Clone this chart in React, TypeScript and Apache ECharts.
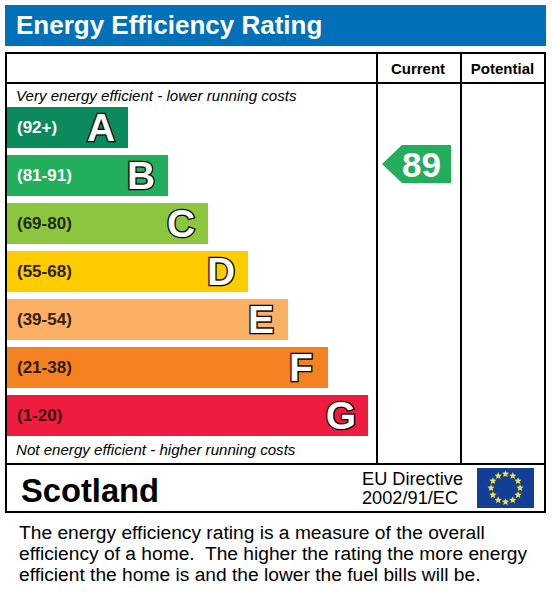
import React, { useEffect, useRef } from "react";
import * as echarts from "echarts";

const letters = ["A", "B", "C", "D", "E", "F", "G"];
const ranges = ["(92+)", "(81-91)", "(69-80)", "(55-68)", "(39-54)", "(21-38)", "(1-20)"];
const barLengths = [121, 161, 201, 241, 281, 321, 361];
const barColors = ["#0b8a5c", "#22ae5b", "#8cc63f", "#ffcc00", "#fbb063", "#f58220", "#ee1c3e"];
const rangeColors = ["#ffffff", "#ffffff", "#1f2b10", "#2b2000", "#33210f", "#33190a", "#3a0a10"];
const currentScore = 89;
const titleText = "Energy Efficiency Rating";
const columnHeads = ["Current", "Potential"];
const topNote = "Very energy efficient - lower running costs";
const bottomNote = "Not energy efficient - higher running costs";
const region = "Scotland";
const directive = ["EU Directive", "2002/91/EC"];
const paragraph = [
  "The energy efficiency rating is a measure of the overall",
  "efficiency of a home.  The higher the rating the more energy",
  "efficient the home is and the lower the fuel bills will be.",
];

const FONT = "'Liberation Sans', Arial, sans-serif";

function starPoints(cx: number, cy: number, r: number) {
  const pts: number[][] = [];
  for (let i = 0; i < 10; i++) {
    const rad = i % 2 === 0 ? r : r * 0.45;
    const a = -Math.PI / 2 + (i * Math.PI) / 5;
    pts.push([cx + rad * Math.cos(a), cy + rad * Math.sin(a)]);
  }
  return pts;
}

function blackRect(x: number, y: number, width: number, height: number) {
  return { type: "rect", shape: { x, y, width, height }, style: { fill: "#000" }, silent: true };
}

function txt(x: number, y: number, text: string, font: string, fill = "#000", align = "left") {
  return {
    type: "text",
    x,
    y,
    silent: true,
    style: { text, font, fill, align, verticalAlign: "middle" },
  };
}

export default function App() {
  const ref = useRef<HTMLDivElement>(null);
  useEffect(() => {
    document.body.style.margin = "0";
    document.body.style.background = "#fff";
    const chart = echarts.init(ref.current!, undefined, { renderer: "svg" });
    const stars = Array.from({ length: 12 }, (_, i) => {
      const a = (i * Math.PI) / 6;
      return {
        type: "polygon",
        silent: true,
        shape: { points: starPoints(505.5 + 14.5 * Math.sin(a), 488 - 14 * Math.cos(a), 3.8) },
        style: { fill: "#f4e23a" },
      };
    });
    chart.setOption({
      animation: false,
      backgroundColor: "#fff",
      title: {
        text: titleText,
        left: 16,
        top: 12,
        padding: 0,
        textStyle: { color: "#fff", fontFamily: FONT, fontWeight: "bold", fontSize: 26 },
      },
      grid: { left: 7, top: 103.5, width: 444, height: 336, containLabel: false },
      xAxis: { type: "value", min: 0, max: 444, show: false },
      yAxis: [
        { type: "category", data: letters, inverse: true, show: false },
        { type: "value", min: 7, max: 107, show: false },
      ],
      graphic: [
        { type: "rect", shape: { x: 5, y: 5, width: 541, height: 41 }, style: { fill: "#0070b8" }, silent: true, z: -1 },
        blackRect(5, 52, 541, 2),
        blackRect(5, 82, 541, 2),
        blackRect(5, 463, 541, 2),
        blackRect(5, 511, 541, 2),
        blackRect(5, 52, 2, 461),
        blackRect(544, 52, 2, 461),
        blackRect(376, 52, 2, 412),
        blackRect(460, 52, 2, 412),
        txt(418, 68.5, columnHeads[0], `bold 15px ${FONT}`, "#000", "center"),
        txt(502.5, 68.5, columnHeads[1], `bold 15px ${FONT}`, "#000", "center"),
        txt(16, 95.5, topNote, `italic 15.1px ${FONT}`),
        txt(16, 449.5, bottomNote, `italic 15.1px ${FONT}`),
        txt(21, 490, region, `bold 32.7px ${FONT}`),
        txt(362, 479, directive[0], `18.2px ${FONT}`),
        txt(362, 498, directive[1], `18.2px ${FONT}`),
        txt(19, 532.5, paragraph[0], `19.2px ${FONT}`),
        txt(19, 553.5, paragraph[1], `19.2px ${FONT}`),
        txt(19, 574.5, paragraph[2], `19.2px ${FONT}`),
        { type: "rect", shape: { x: 477, y: 468, width: 57, height: 40 }, style: { fill: "#123f95" }, silent: true },
        ...stars,
      ],
      series: [
        {
          type: "bar",
          barWidth: 41,
          barGap: "-100%",
          silent: true,
          data: barLengths.map((v, i) => ({
            value: v,
            itemStyle: { color: barColors[i] },
            label: { color: rangeColors[i] },
          })),
          label: {
            show: true,
            position: "insideLeft",
            distance: 10,
            fontFamily: FONT,
            fontWeight: "bold",
            fontSize: 17,
            formatter: (p: any) => ranges[p.dataIndex],
          },
        },
        {
          type: "bar",
          barWidth: 41,
          barGap: "-100%",
          silent: true,
          itemStyle: { color: "transparent" },
          data: barLengths,
          label: {
            show: true,
            position: "insideRight",
            distance: 27,
            align: "center",
            fontFamily: FONT,
            fontWeight: "bold",
            fontSize: 39,
            color: "#fff",
            textBorderColor: "#000",
            textBorderWidth: 2.6,
            formatter: (p: any) => letters[p.dataIndex],
          },
        },
        {
          type: "custom",
          yAxisIndex: 1,
          silent: true,
          clip: false,
          data: [[375, currentScore]],
          encode: { x: 0, y: 1 },
          renderItem: (_: any, api: any) => {
            const [x, y] = api.coord([api.value(0), api.value(1)]);
            const h = 19;
            return {
              type: "group",
              children: [
                {
                  type: "polygon",
                  shape: { points: [[x, y], [x + 20, y - h], [x + 69, y - h], [x + 69, y + h], [x + 20, y + h]] },
                  style: { fill: "#22ae5b" },
                },
                {
                  type: "text",
                  x: x + 39.5,
                  y: y + 1,
                  style: {
                    text: String(api.value(1)),
                    font: `bold 35px ${FONT}`,
                    fill: "#fff",
                    align: "center",
                    verticalAlign: "middle",
                  },
                },
              ],
            };
          },
        },
      ],
    });
    return () => chart.dispose();
  }, []);
  return <div ref={ref} style={{ width: 552, height: 613 }} />;
}
